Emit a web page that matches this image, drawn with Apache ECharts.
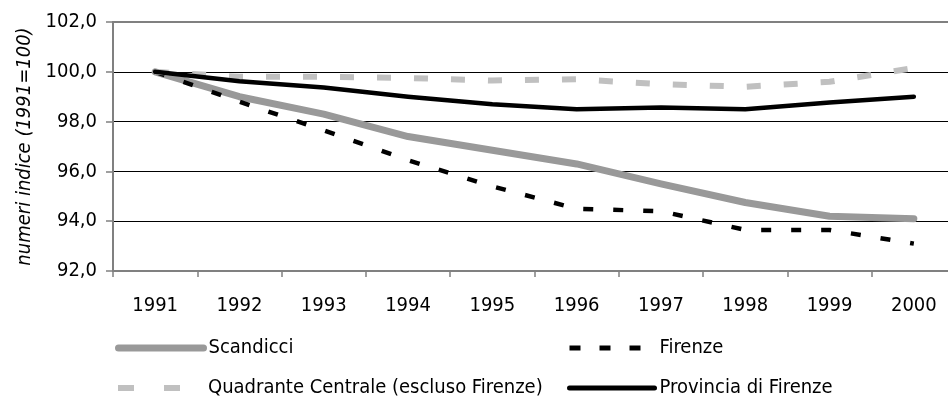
<!DOCTYPE html>
<html>
<head>
<meta charset="utf-8">
<script src="https://cdn.jsdelivr.net/npm/echarts@6/dist/echarts.min.js"></script>
<style>
  html, body { margin: 0; padding: 0; background: #fff; }
  #chart { width: 948px; height: 401px; }
</style>
</head>
<body>
<div id="chart"></div>
<script>
// dati (numeri indice 1991=100)
const years = ['1991', '1992', '1993', '1994', '1995', '1996', '1997', '1998', '1999', '2000']
const scandicci = [100, 99.0, 98.3, 97.4, 96.85, 96.3, 95.5, 94.75, 94.2, 94.1]
const firenze = [100, 98.8, 97.65, 96.45, 95.4, 94.5, 94.4, 93.65, 93.65, 93.1]
const quadrante = [100, 99.8, 99.8, 99.75, 99.65, 99.7, 99.5, 99.4, 99.6, 100.15]
const provincia = [100, 99.62, 99.37, 99.0, 98.7, 98.5, 98.57, 98.5, 98.77, 99.0]
const yTicks = [92, 94, 96, 98, 100, 102]

const font = '"DejaVu Sans Condensed", "DejaVu Sans", sans-serif'
const axisGrey = '#808080'

const chart = echarts.init(document.getElementById('chart'), null, { renderer: 'canvas' })

// una legenda per voce, posizionate come nell'originale
const legendBox = (name, left, top, lineStyle) => ({
  left: left,
  top: top,
  padding: 0,
  orient: 'horizontal',
  itemWidth: 85,
  itemHeight: 14,
  selectedMode: false,
  textStyle: { fontFamily: font, fontSize: 20, color: '#000' },
  data: [{ name: name, lineStyle: lineStyle, itemStyle: { opacity: 0 } }]
})

const option = {
  backgroundColor: '#fff',
  animation: false,
  grid: {
    left: 113,
    top: 22,
    right: -8,
    height: 249,
    outerBoundsMode: 'none',
    show: false
  },
  legend: [
    legendBox('Scandicci', 115, 338, { color: '#999999', width: 7, type: 'solid', cap: 'round' }),
    legendBox('Firenze', 567, 338, { color: '#000', width: 5, type: [11, 19] }),
    legendBox('Quadrante Centrale (escluso Firenze)', 115, 378, { color: '#c0c0c0', width: 6, type: [16, 30] }),
    legendBox('Provincia di Firenze', 567, 378, { color: '#000', width: 5, type: 'solid', cap: 'round' })
  ],
  xAxis: [
    {
      type: 'category',
      data: years,
      boundaryGap: true,
      axisLine: { lineStyle: { color: axisGrey, width: 2 } },
      axisTick: { show: true, length: 6, lineStyle: { color: axisGrey, width: 1.5 } },
      axisLabel: { margin: 25, fontFamily: font, fontSize: 20, color: '#000' },
      splitLine: { show: false }
    },
    {
      // bordo superiore dell'area del grafico
      type: 'category',
      data: years,
      position: 'top',
      axisLine: { show: true, lineStyle: { color: axisGrey, width: 2 } },
      axisTick: { show: false },
      axisLabel: { show: false },
      splitLine: { show: false }
    }
  ],
  yAxis: {
    type: 'value',
    min: yTicks[0],
    max: yTicks[yTicks.length - 1],
    interval: 2,
    name: 'numeri indice (1991=100)',
    nameLocation: 'middle',
    nameRotate: 90,
    nameGap: 78,
    nameTextStyle: { fontFamily: font, fontSize: 20, fontStyle: 'italic', color: '#000' },
    axisLine: { show: true, lineStyle: { color: axisGrey, width: 2 } },
    axisTick: { show: true, length: 7, lineStyle: { color: axisGrey, width: 1.5 } },
    axisLabel: {
      margin: 16,
      fontFamily: font,
      fontSize: 20,
      color: '#000',
      formatter: v => v.toFixed(1).replace('.', ',')
    },
    splitLine: {
      show: true,
      lineStyle: { color: [axisGrey, '#000', '#000', '#000', '#000', axisGrey], width: 1 }
    }
  },
  series: [
    {
      name: 'Scandicci',
      type: 'line',
      data: scandicci,
      symbol: 'none',
      lineStyle: { color: '#999999', width: 7, cap: 'round', join: 'round' },
      itemStyle: { color: '#999999' }
    },
    {
      name: 'Firenze',
      type: 'line',
      data: firenze,
      symbol: 'none',
      lineStyle: { color: '#000', width: 4.5, type: [10, 20] },
      itemStyle: { color: '#000' }
    },
    {
      name: 'Quadrante Centrale (escluso Firenze)',
      type: 'line',
      data: quadrante,
      symbol: 'none',
      lineStyle: { color: '#c0c0c0', width: 6, type: [14, 23] },
      itemStyle: { color: '#c0c0c0' }
    },
    {
      name: 'Provincia di Firenze',
      type: 'line',
      data: provincia,
      symbol: 'none',
      lineStyle: { color: '#000', width: 4.5, cap: 'round', join: 'round' },
      itemStyle: { color: '#000' }
    }
  ]
}

chart.setOption(option)
</script>
</body>
</html>
